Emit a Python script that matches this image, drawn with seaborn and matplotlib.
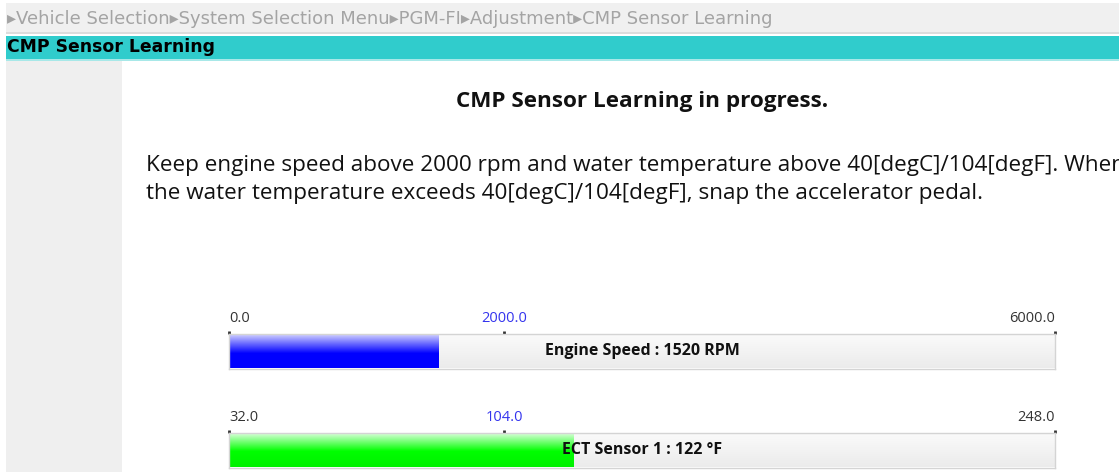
import numpy as np
import matplotlib
matplotlib.use('Agg')
import matplotlib.pyplot as plt
import seaborn as sns
from matplotlib.colors import LinearSegmentedColormap
from matplotlib.patches import Rectangle

sns.set_theme(style='white')
plt.rcParams['font.family'] = ['Open Sans', 'DejaVu Sans']

# screen texts
breadcrumb = ['Vehicle Selection', 'System Selection Menu', 'PGM-FI', 'Adjustment', 'CMP Sensor Learning']
header = 'CMP Sensor Learning'
status = 'CMP Sensor Learning in progress.'
instructions = ['Keep engine speed above 2000 rpm and water temperature above 40[degC]/104[degF]. When',
                'the water temperature exceeds 40[degC]/104[degF], snap the accelerator pedal.']

# gauge data
gauge_names = ['Engine Speed', 'ECT Sensor 1']
gauge_values = [1520, 122]
gauge_units = ['RPM', '°F']
gauge_min = [0.0, 32.0]
gauge_mark = [2000.0, 104.0]
gauge_max = [6000.0, 248.0]

W, H = 1119, 472
fig = plt.figure(figsize=(W / 100, H / 100), dpi=100)


def box(x, y, w, h):
    # pixel box (top-left origin) -> figure fraction
    return [x / W, 1 - (y + h) / H, w / W, h / H]


def rect(x, y, w, h, color):
    l, b, ww, hh = box(x, y, w, h)
    fig.add_artist(Rectangle((l, b), ww, hh, transform=fig.transFigure,
                             facecolor=color, edgecolor='none', zorder=0))


# window chrome
rect(6, 3, W, 30, '#f0f0f0')
rect(6, 32, W, 1.5, '#dcdcdc')
rect(6, 35.5, W, 24, '#30cccc')
rect(6, 59.5, W, 1.5, '#a8e8e8')
rect(6, 61, 116, H, '#efefef')

fig.text(7 / W, 1 - 18.5 / H, '▸' + '▸'.join(breadcrumb), family='DejaVu Sans',
         fontsize=13, color='#a4a4a4', va='center', ha='left')
fig.text(7 / W, 1 - 47 / H, header, family='DejaVu Sans', fontweight='bold',
         fontsize=12.4, color='#000000', va='center', ha='left')

fig.text(642 / W, 1 - 101 / H, status, fontweight='bold', fontsize=16.2,
         color='#111111', va='center', ha='center')
for i, line in enumerate(instructions):
    fig.text(146 / W, 1 - (165 + 28.5 * i) / H, line, fontsize=16.2,
             color='#111111', va='center', ha='left')

fill_cmaps = [
    LinearSegmentedColormap.from_list('blue', [(0, '#dcdcff'), (0.58, '#0000ff'), (1, '#0000ff')]),
    LinearSegmentedColormap.from_list('green', [(0, '#e6ffe6'), (0.55, '#00ff00'), (1, '#00f000')]),
]
bg_cmap = LinearSegmentedColormap.from_list('bg', ['#fbfbfb', '#ebebeb'])
grad = np.linspace(0, 1, 200).reshape(-1, 1)
tops = [333.5, 432.5]

for i in range(len(gauge_names)):
    ax = fig.add_axes(box(229, tops[i], 826, 35))
    lo, hi = gauge_min[i], gauge_max[i]
    # bars are drawn from the gauge minimum
    sns.barplot(x=[gauge_values[i] - lo], y=[gauge_names[i]], orient='h', width=1.0,
                color='#0000ff', ax=ax)
    bar = ax.patches[0]
    bar.set_facecolor('none')
    bar.set_edgecolor('none')
    x1 = lo + bar.get_x() + bar.get_width()
    ax.imshow(grad, extent=(lo, hi, 0.5, -0.5), aspect='auto', cmap=bg_cmap, zorder=0)
    ax.imshow(grad, extent=(lo, x1, 0.5, -0.5), aspect='auto', cmap=fill_cmaps[i], zorder=1)
    ax.set_xlim(lo, hi)
    ax.set_ylim(0.5, -0.5)
    ax.set_xlabel('')
    ax.set_ylabel('')
    ax.set_yticks([])
    for s in ax.spines.values():
        s.set_color('#d4d4d4')
        s.set_linewidth(1)

    ax.set_xticks([lo, gauge_mark[i], hi])
    ax.set_xticklabels([f'{lo:.1f}', f'{gauge_mark[i]:.1f}', f'{hi:.1f}'])
    ax.tick_params(axis='x', top=True, labeltop=True, bottom=False, labelbottom=False,
                   direction='out', length=2, width=2, pad=3.5, labelsize=10.5, colors='#333333')
    labels = ax.get_xticklabels()
    labels[0].set_ha('left')
    labels[2].set_ha('right')
    labels[1].set_color('#3434ee')
    ax.xaxis.get_major_ticks()[1].tick2line.set_color('#3434ee')

    ax.text(0.5, 0.5, f'{gauge_names[i]} : {gauge_values[i]} {gauge_units[i]}',
            transform=ax.transAxes, ha='center', va='center', fontweight='bold',
            fontsize=11.5, color='#111111', zorder=5)

fig.savefig('out.png', dpi=100)
